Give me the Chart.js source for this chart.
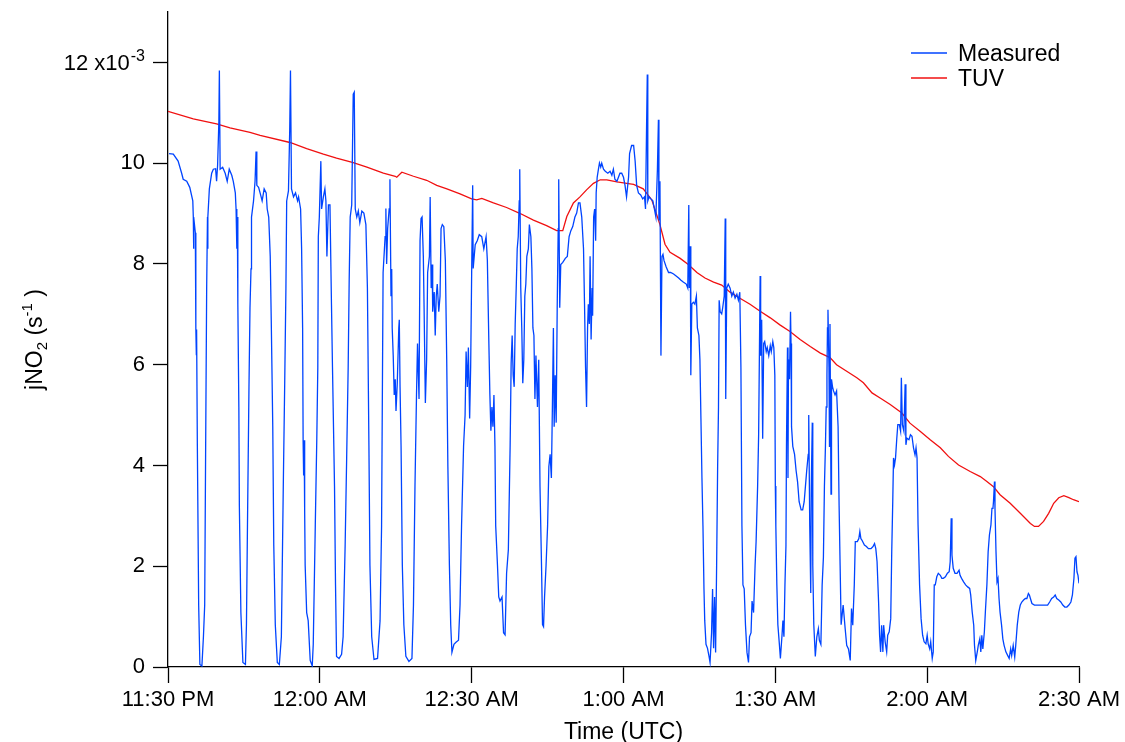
<!DOCTYPE html>
<html>
<head>
<meta charset="utf-8">
<script src="https://cdn.jsdelivr.net/npm/chart.js@4.4.1/dist/chart.umd.min.js"></script>
<style>
  html, body { margin: 0; padding: 0; background: #ffffff; }
  #wrap { width: 1125px; height: 742px; }
</style>
</head>
<body>
<div id="wrap"><canvas id="c" width="1125" height="742"></canvas></div>
<script>
// ---- Data (time in minutes after 11:30 PM UTC, jNO2 in 1e-3 s^-1) ----
const xTickLabels = ['11:30 PM', '12:00 AM', '12:30 AM', '1:00 AM', '1:30 AM', '2:00 AM', '2:30 AM'];
const yTickLabels = ['0', '2', '4', '6', '8', '10', '12 x10'];
const yExponent = '-3';
const seriesNames = ['Measured', 'TUV'];

const measuredTime = [
0.2,1.05,2.0,2.7,3.0,3.7,4.3,4.9,5.0,5.05,5.1,5.4,5.5,5.6,5.65,5.8,6.06,6.3,6.7,7.0,7.25,7.44,7.64,7.8,7.85,7.9,8.17,8.63,8.96,9.4,9.6,9.8,10.05,10.15,10.3,10.8,11.3,11.7,12.1,12.6,12.9,13.3,13.45,13.6,13.7,13.8,14.0,14.1,14.4,14.8,15.3,15.5,15.7,16.0,16.2,16.4,16.5,16.9,17.2,17.4,17.55,17.9,18.3,18.6,19.0,19.4,19.6,19.9,20.2,20.4,20.7,20.9,21.2,21.6,22.0,22.4,22.8,23.05,23.3,23.45,23.8,24.05,24.2,24.4,24.8,25.2,25.6,25.8,26.2,26.4,26.6,26.7,26.8,26.9,27.0,27.1,27.4,27.7,28.1,28.5,28.7,29.1,29.4,29.6,29.7,29.9,30.2,30.35,30.7,31.0,31.2,31.4,31.7,32.0,32.3,32.5,32.9,33.1,33.3,33.8,34.3,34.6,35.0,35.3,35.6,35.8,36.0,36.3,36.6,36.8,37.0,37.3,37.6,37.9,38.3,38.7,39.1,39.4,39.7,39.9,40.25,40.7,41.4,41.9,
42.2,42.5,42.9,43.05,43.2,43.4,43.7,43.85,44.06,44.2,44.3,44.5,44.7,44.9,45.05,45.3,45.6,45.7,45.85,46.05,46.3,46.6,47.0,47.6,48.2,48.5,48.8,49.1,49.3,49.6,49.8,50.0,50.2,50.45,50.6,50.85,51.1,51.3,51.65,51.8,52.0,52.2,52.3,52.6,52.8,53.0,53.2,53.5,53.75,53.95,54.2,54.5,54.8,55.07,55.3,55.6,55.86,56.1,56.5,56.9,57.4,57.7,58.0,58.4,58.7,58.9,59.15,59.35,59.6,59.8,60.0,60.2,60.3,60.7,61.1,61.5,61.99,62.4,62.85,63.1,63.4,63.6,63.8,64.0,64.2,64.4,64.6,64.75,65.1,65.35,65.6,66.0,66.3,66.6,66.9,67.25,67.6,67.8,68.0,68.2,68.4,68.6,68.8,69.0,69.2,69.4,69.5,69.7,69.9,70.1,70.3,70.5,70.7,70.9,71.2,71.4,71.7,71.9,72.1,72.3,72.5,72.7,73.0,73.25,73.5,73.8,74.0,74.2,74.4,74.7,75.0,75.25,75.5,75.75,75.95,76.15,76.3,76.5,76.7,76.9,77.1,77.2,77.4,77.6,78.0,78.5,78.9,79.25,79.6,79.97,80.4,80.75,81.1,81.4,81.75,82.1,82.3,82.5,82.7,82.9,83.05,83.25,83.4,83.6,83.8,83.9,84.1,84.3,84.5,84.6,84.8,85.05,85.25,85.5,85.7,86.05,86.4,86.9,87.35,87.7,88.0,88.3,88.7,89.0,89.3,89.65,90.0,90.3,90.6,91.0,91.2,
91.6,92.0,92.3,92.6,92.95,93.4,93.8,94.15,94.35,94.55,94.7,94.8,95.05,95.4,95.8,96.1,96.4,96.7,96.9,97.0,97.2,97.4,97.6,97.8,98.0,98.4,98.9,99.3,99.9,100.4,100.9,101.3,101.8,102.4,102.7,102.9,103.0,103.2,103.3,103.5,103.8,104.1,104.4,104.6,104.9,105.1,105.3,105.5,105.7,105.9,106.05,106.3,106.6,106.9,107.1,107.4,107.6,107.8,108.0,108.2,108.4,108.6,108.77,108.9,109.1,109.4,109.6,109.9,110.1,110.2,110.4,110.7,111.06,111.4,111.7,112.05,112.4,112.7,112.98,113.2,113.4,113.6,113.85,114.1,114.4,114.7,114.9,115.2,115.4,115.7,116.0,116.2,116.5,116.7,116.9,117.0,117.1,117.3,117.5,117.7,117.9,118.2,118.4,118.7,119.0,119.2,119.5,119.7,119.9,120.0,120.1,120.3,120.5,120.8,121.0,121.3,121.5,121.7,121.9,122.1,122.2,122.4,122.5,122.6,122.8,123.0,123.1,123.2,123.45,123.8,124.1,124.4,124.7,125.1,125.4,125.7,125.95,126.2,126.5,126.6,126.8,127.0,127.1,127.3,127.4,127.6,127.9,128.2,128.5,128.7,129.0,129.25,129.5,129.7,129.9,130.05,130.2,130.3,130.4,130.6,130.7,130.8,131.0,131.1,131.3,131.5,131.8,132.1,132.4,132.6,132.8,133.0,
133.4,133.8,134.1,134.45,134.8,135.05,135.3,135.6,135.8,136.2,136.5,136.7,136.9,137.1,137.6,138.0,138.4,138.9,139.3,139.6,139.85,140.1,140.4,140.6,140.8,141.0,141.25,141.4,141.7,142.0,142.2,142.5,142.8,143.0,143.2,143.35,143.55,143.75,144.0,144.2,144.5,144.75,144.9,145.1,145.4,145.65,145.8,146.0,146.4,146.7,147.0,147.3,147.6,147.8,148.0,148.2,148.5,148.8,149.1,149.4,149.75,150.0,150.2,150.5,150.7,151.0,151.2,151.4,151.6,151.9,152.2,152.6,152.9,153.2,153.6,154.0,154.35,154.55,154.75,154.9,155.15,155.5,155.9,156.3,156.5,156.8,157.2,157.6,158.0,158.4,158.6,158.9,159.2,159.35,159.6,159.9,160.1,160.4,160.6,160.8,161.0,161.3,161.5,161.8,162.05,162.3,162.6,162.8,163.0,163.1,163.3,163.4,163.6,163.8,164.0,164.2,164.4,164.7,164.95,165.2,165.55,165.9,166.2,166.5,166.7,167.0,167.3,167.5,167.8,168.1,168.4,168.7,169.05,169.4,169.7,170.0,170.2,170.4,170.7,171.2,172.2,173.3,173.8,174.2,174.6,175.0,175.3,175.6,176.0,176.4,176.8,177.2,177.6,178.0,178.4,178.7,179.0,179.2,179.4,179.6,179.8,180.0
];
const measuredValue = [
10.19,10.18,10.04,9.8,9.68,9.64,9.52,9.25,8.93,8.3,8.93,8.62,6.73,6.2,6.7,4.38,1.23,0.05,0.02,0.6,1.23,4.38,7.52,8.93,8.3,8.93,9.49,9.8,9.88,9.89,9.64,9.96,10.82,11.84,9.88,9.92,9.8,9.64,9.88,9.76,9.64,9.41,9.09,8.3,8.93,7.2,5.16,3.2,1.08,0.09,0.05,0.84,2.8,5.56,7.13,7.9,8.93,9.25,9.64,10.23,9.56,9.52,9.37,9.25,9.49,9.41,9.09,8.93,8.15,6.89,4.77,2.41,0.84,0.09,0.05,0.6,3.75,5.56,7.52,9.25,9.45,10.66,11.84,9.49,9.33,9.41,9.25,9.33,9.09,8.3,6.73,4.46,3.8,4.5,3.12,2.02,1.08,0.92,0.13,0.02,0.45,2.8,4.53,5.95,8.54,8.93,10.04,9.09,9.33,9.49,9.25,8.15,9.17,9.17,7.2,5.95,3.59,1.63,0.21,0.17,0.25,0.6,2.41,4.14,5.95,7.68,8.93,9.17,11.37,11.41,9.09,8.93,9.05,8.82,9.05,9.01,8.78,7.52,4.38,2.02,0.6,0.15,0.17,0.92,
2.8,7.83,8.54,9.1,8.0,8.7,9.09,9.68,7.36,7.9,6.73,6.18,5.4,5.71,5.08,5.63,6.73,6.89,5.56,4.38,2.02,0.84,0.21,0.11,0.17,1.23,3.59,5.4,6.42,5.32,8.46,8.9,8.93,8.15,7.13,5.24,6.1,7.83,8.15,9.33,7.52,7.99,7.05,7.44,6.58,7.36,7.6,7.05,7.36,8.7,8.78,8.74,8.07,6.1,3.98,2.02,0.84,0.29,0.45,0.49,0.53,1.23,2.8,4.38,5.0,6.26,5.56,6.34,4.93,5.95,7.83,9.56,7.91,8.38,8.46,8.58,8.54,8.3,8.54,8.07,6.42,5.4,4.69,5.16,4.77,5.4,4.38,2.8,2.02,1.39,1.31,1.39,0.68,0.64,1.86,2.33,4.38,6.03,6.58,5.79,5.56,6.81,7.52,8.3,8.54,9.25,9.88,7.52,6.73,5.63,6.1,7.36,7.6,8.15,8.3,8.78,8.54,7.91,6.73,6.58,5.32,6.18,5.16,6.1,3.59,2.02,0.84,0.8,1.39,2.02,2.8,3.98,4.22,3.75,5.16,6.73,4.77,5.79,4.85,7.13,8.7,9.68,7.13,7.99,8.03,8.11,8.15,8.54,8.66,8.74,8.93,9.01,9.21,9.21,8.93,8.3,7.2,5.95,5.16,6.73,7.2,6.81,8.15,6.5,7.52,6.97,8.93,9.09,8.46,9.41,9.72,9.88,10.0,9.92,10.0,9.88,9.84,9.8,9.84,9.76,9.88,9.68,9.64,9.72,9.8,9.8,9.72,9.56,9.33,9.72,10.19,
10.35,10.35,10.04,9.56,9.41,9.37,9.29,9.33,9.09,10.66,11.76,9.25,9.33,9.29,9.25,9.09,8.93,9.88,10.86,8.86,9.64,6.18,8.15,8.19,8.07,7.95,7.83,7.83,7.8,7.76,7.72,7.68,7.64,7.6,7.52,9.17,7.52,8.35,5.79,7.2,7.24,7.2,7.36,6.73,6.58,6.1,4.93,3.75,2.8,1.55,0.92,0.45,0.37,0.21,0.09,0.68,1.55,0.37,1.39,0.29,2.02,3.98,5.16,7.28,7.05,7.01,7.13,7.36,8.9,5.32,7.52,7.6,7.52,7.36,7.44,7.32,7.4,7.28,7.44,5.95,2.8,1.63,1.55,0.84,0.29,0.09,0.6,0.68,1.31,1.08,2.02,2.49,3.59,4.61,6.73,7.76,6.18,6.89,4.53,6.42,6.46,6.26,6.34,6.18,6.38,6.26,6.46,6.34,5.79,3.59,2.8,1.63,0.84,0.45,0.17,0.6,0.92,0.6,1.63,2.41,4.38,6.34,3.75,6.1,5.71,7.05,6.42,4.77,4.38,4.22,3.9,3.67,3.28,3.12,3.12,3.28,3.59,3.9,4.22,5.0,2.8,1.47,3.59,4.85,2.02,0.84,0.21,0.6,0.76,0.53,0.45,1.63,2.18,3.59,4.38,5.16,5.79,6.73,7.09,5.95,4.38,6.81,3.43,5.71,5.56,5.48,5.4,5.48,4.77,3.2,2.02,0.84,
1.23,0.76,0.43,0.36,0.13,1.16,0.83,1.63,2.49,2.49,2.55,2.69,2.55,2.52,2.42,2.39,2.35,2.35,2.39,2.45,2.35,2.09,1.29,0.63,0.3,0.83,0.3,0.83,0.5,0.3,0.63,0.7,0.96,2.29,3.28,4.15,4.01,4.15,4.54,4.81,4.81,4.68,5.74,4.81,4.68,5.61,4.41,4.54,4.51,4.61,4.58,4.35,4.21,4.35,4.15,2.82,1.63,0.96,0.63,0.5,0.46,0.63,0.46,0.36,0.5,0.17,0.3,1.63,1.63,1.79,1.86,1.82,1.76,1.76,1.79,1.86,1.89,2.09,2.95,2.22,1.96,1.86,1.86,1.92,1.82,1.76,1.69,1.63,1.59,1.56,1.43,1.09,0.83,0.43,0.13,0.3,0.43,0.56,0.3,0.63,0.36,0.7,1.09,1.63,2.29,2.62,2.82,3.15,3.15,3.28,3.68,3.15,2.29,1.69,1.76,1.36,1.09,0.83,0.56,0.43,0.3,0.23,0.17,0.36,0.23,0.43,0.2,0.43,0.83,1.09,1.23,1.29,1.33,1.36,1.36,1.46,1.43,1.36,1.26,1.23,1.23,1.23,1.23,1.29,1.36,1.39,1.43,1.36,1.33,1.29,1.23,1.19,1.19,1.23,1.29,1.43,1.76,2.16,2.19,1.89,1.82,1.66
];

const tuvTime = [0,5,9.6,12.25,16.2,18.2,24.1,27.4,30.7,33.3,36.6,39.3,42.55,44.9,45.2,46.2,48.5,51.1,53.1,55.1,57.7,60.0,61.0,62.0,64.3,66.9,69.6,72.2,74.8,76.8,78.0,78.8,80.1,81.4,82.7,84.06,85.4,86.7,88.7,91.3,92.0,93.9,95.6,97.2,98.2,99.2,101.2,102.8,104.5,106.1,107.8,109.4,111.06,113.0,115.0,117.0,119.0,120.9,122.9,124.9,126.9,128.9,130.8,132.1,134.1,136.1,137.4,139.1,140.7,142.7,145.0,146.6,148.6,150.6,152.6,154.2,156.2,158.5,160.5,161.8,163.1,164.4,166.4,168.4,170.4,171.2,172.0,173.0,174.0,175.0,176.0,177.0,178.0,178.9,180.0];
const tuvValue = [11.03,10.88,10.78,10.7,10.61,10.55,10.41,10.29,10.18,10.1,10.01,9.92,9.8,9.74,9.72,9.82,9.74,9.66,9.56,9.49,9.39,9.29,9.27,9.3,9.21,9.12,9.0,8.87,8.76,8.66,8.66,8.94,9.21,9.33,9.47,9.6,9.67,9.67,9.63,9.59,9.58,9.49,9.27,8.78,8.39,8.23,8.11,7.99,7.83,7.72,7.64,7.58,7.44,7.32,7.2,7.06,6.93,6.79,6.66,6.5,6.36,6.23,6.14,6.0,5.87,5.74,5.64,5.44,5.34,5.21,5.04,4.84,4.68,4.51,4.35,4.18,4.01,3.88,3.78,3.68,3.58,3.42,3.25,3.05,2.85,2.79,2.79,2.89,3.05,3.25,3.36,3.4,3.36,3.32,3.28];

// ---- Chart ----
const FONT = 'Liberation Sans, Arial, Helvetica, sans-serif';
const BLUE = 'rgb(0,68,255)';
const RED = 'rgb(240,16,16)';

const measuredPts = measuredTime.map((t, i) => ({ x: t, y: measuredValue[i] }));
const tuvPts = tuvTime.map((t, i) => ({ x: t, y: tuvValue[i] }));

const decorations = {
  id: 'decorations',
  afterDraw(chart) {
    const ctx = chart.ctx;
    const ys = chart.scales.y;
    const area = chart.chartArea;
    ctx.save();
    ctx.fillStyle = '#000';
    // top y tick label with exponent
    const y12 = ys.getPixelForValue(12);
    const labelRight = area.left - 15 - 8;
    ctx.textAlign = 'right';
    ctx.textBaseline = 'alphabetic';
    ctx.font = '16px ' + FONT;
    const wExp = ctx.measureText(yExponent).width;
    ctx.fillText(yExponent, labelRight, y12 - 1);
    ctx.font = '22px ' + FONT;
    ctx.fillText(yTickLabels[6], labelRight - wExp - 1, y12 + 8);

    // x axis title
    ctx.textAlign = 'center';
    ctx.font = '23px ' + FONT;
    ctx.fillText('Time (UTC)', (area.left + area.right) / 2, 739);

    // y axis title  jNO2 (s-1)
    const parts = [
      { t: 'jNO', f: '23px ', dy: 0 },
      { t: '2', f: '15px ', dy: 5 },
      { t: ' (s', f: '23px ', dy: 0 },
      { t: '-1', f: '15px ', dy: -10 },
      { t: ' )', f: '23px ', dy: 0 }
    ];
    let total = 0;
    parts.forEach(p => { ctx.font = p.f + FONT; p.w = ctx.measureText(p.t).width; total += p.w; });
    ctx.translate(42, (area.top + area.bottom) / 2);
    ctx.rotate(-Math.PI / 2);
    ctx.textAlign = 'left';
    let cx = -total / 2;
    parts.forEach(p => { ctx.font = p.f + FONT; ctx.fillText(p.t, cx, p.dy); cx += p.w; });
    ctx.restore();

    // legend
    ctx.save();
    ctx.font = '23px ' + FONT;
    ctx.textAlign = 'left';
    ctx.textBaseline = 'alphabetic';
    chart.data.datasets.forEach((ds, i) => {
      const ly = 53 + i * 25;
      ctx.strokeStyle = ds.borderColor;
      ctx.lineWidth = 1.4;
      ctx.beginPath();
      ctx.moveTo(911, ly);
      ctx.lineTo(947, ly);
      ctx.stroke();
      ctx.fillStyle = '#000';
      ctx.fillText(ds.label, 958, ly + 8);
    });
    ctx.restore();
  }
};

new Chart(document.getElementById('c'), {
  type: 'line',
  data: {
    datasets: [
      { label: seriesNames[0], data: measuredPts, borderColor: BLUE, borderWidth: 1.3, pointRadius: 0, tension: 0, fill: false },
      { label: seriesNames[1], data: tuvPts, borderColor: RED, borderWidth: 1.3, pointRadius: 0, tension: 0, fill: false }
    ]
  },
  options: {
    responsive: false,
    animation: false,
    devicePixelRatio: 1,
    layout: { padding: { left: 0, top: 12, right: 46, bottom: 0 } },
    plugins: { legend: { display: false }, tooltip: { enabled: false } },
    scales: {
      x: {
        type: 'linear',
        min: 0, max: 180,
        afterFit: s => { s.height = 75; },
        ticks: {
          stepSize: 30, autoSkip: false, maxRotation: 0, minRotation: 0,
          color: '#000', padding: 4, font: { family: FONT, size: 22 },
          callback: v => xTickLabels[Math.round(v / 30)]
        },
        grid: { drawOnChartArea: false, drawTicks: true, tickLength: 16, tickColor: '#000', tickWidth: 1.3 },
        border: { display: true, color: '#000', width: 1.3 }
      },
      y: {
        min: 0, max: 13,
        afterFit: s => { s.width = 168; s.paddingTop = 0; s.paddingBottom = 0; },
        ticks: {
          stepSize: 2, includeBounds: false, color: '#000', padding: 8,
          font: { family: FONT, size: 22 },
          callback: v => (v === 12 ? '' : yTickLabels[Math.round(v / 2)])
        },
        grid: { drawOnChartArea: false, drawTicks: true, tickLength: 15, tickColor: '#000', tickWidth: 1.3 },
        border: { display: true, color: '#000', width: 1.3 }
      }
    }
  },
  plugins: [decorations]
});
</script>
</body>
</html>
